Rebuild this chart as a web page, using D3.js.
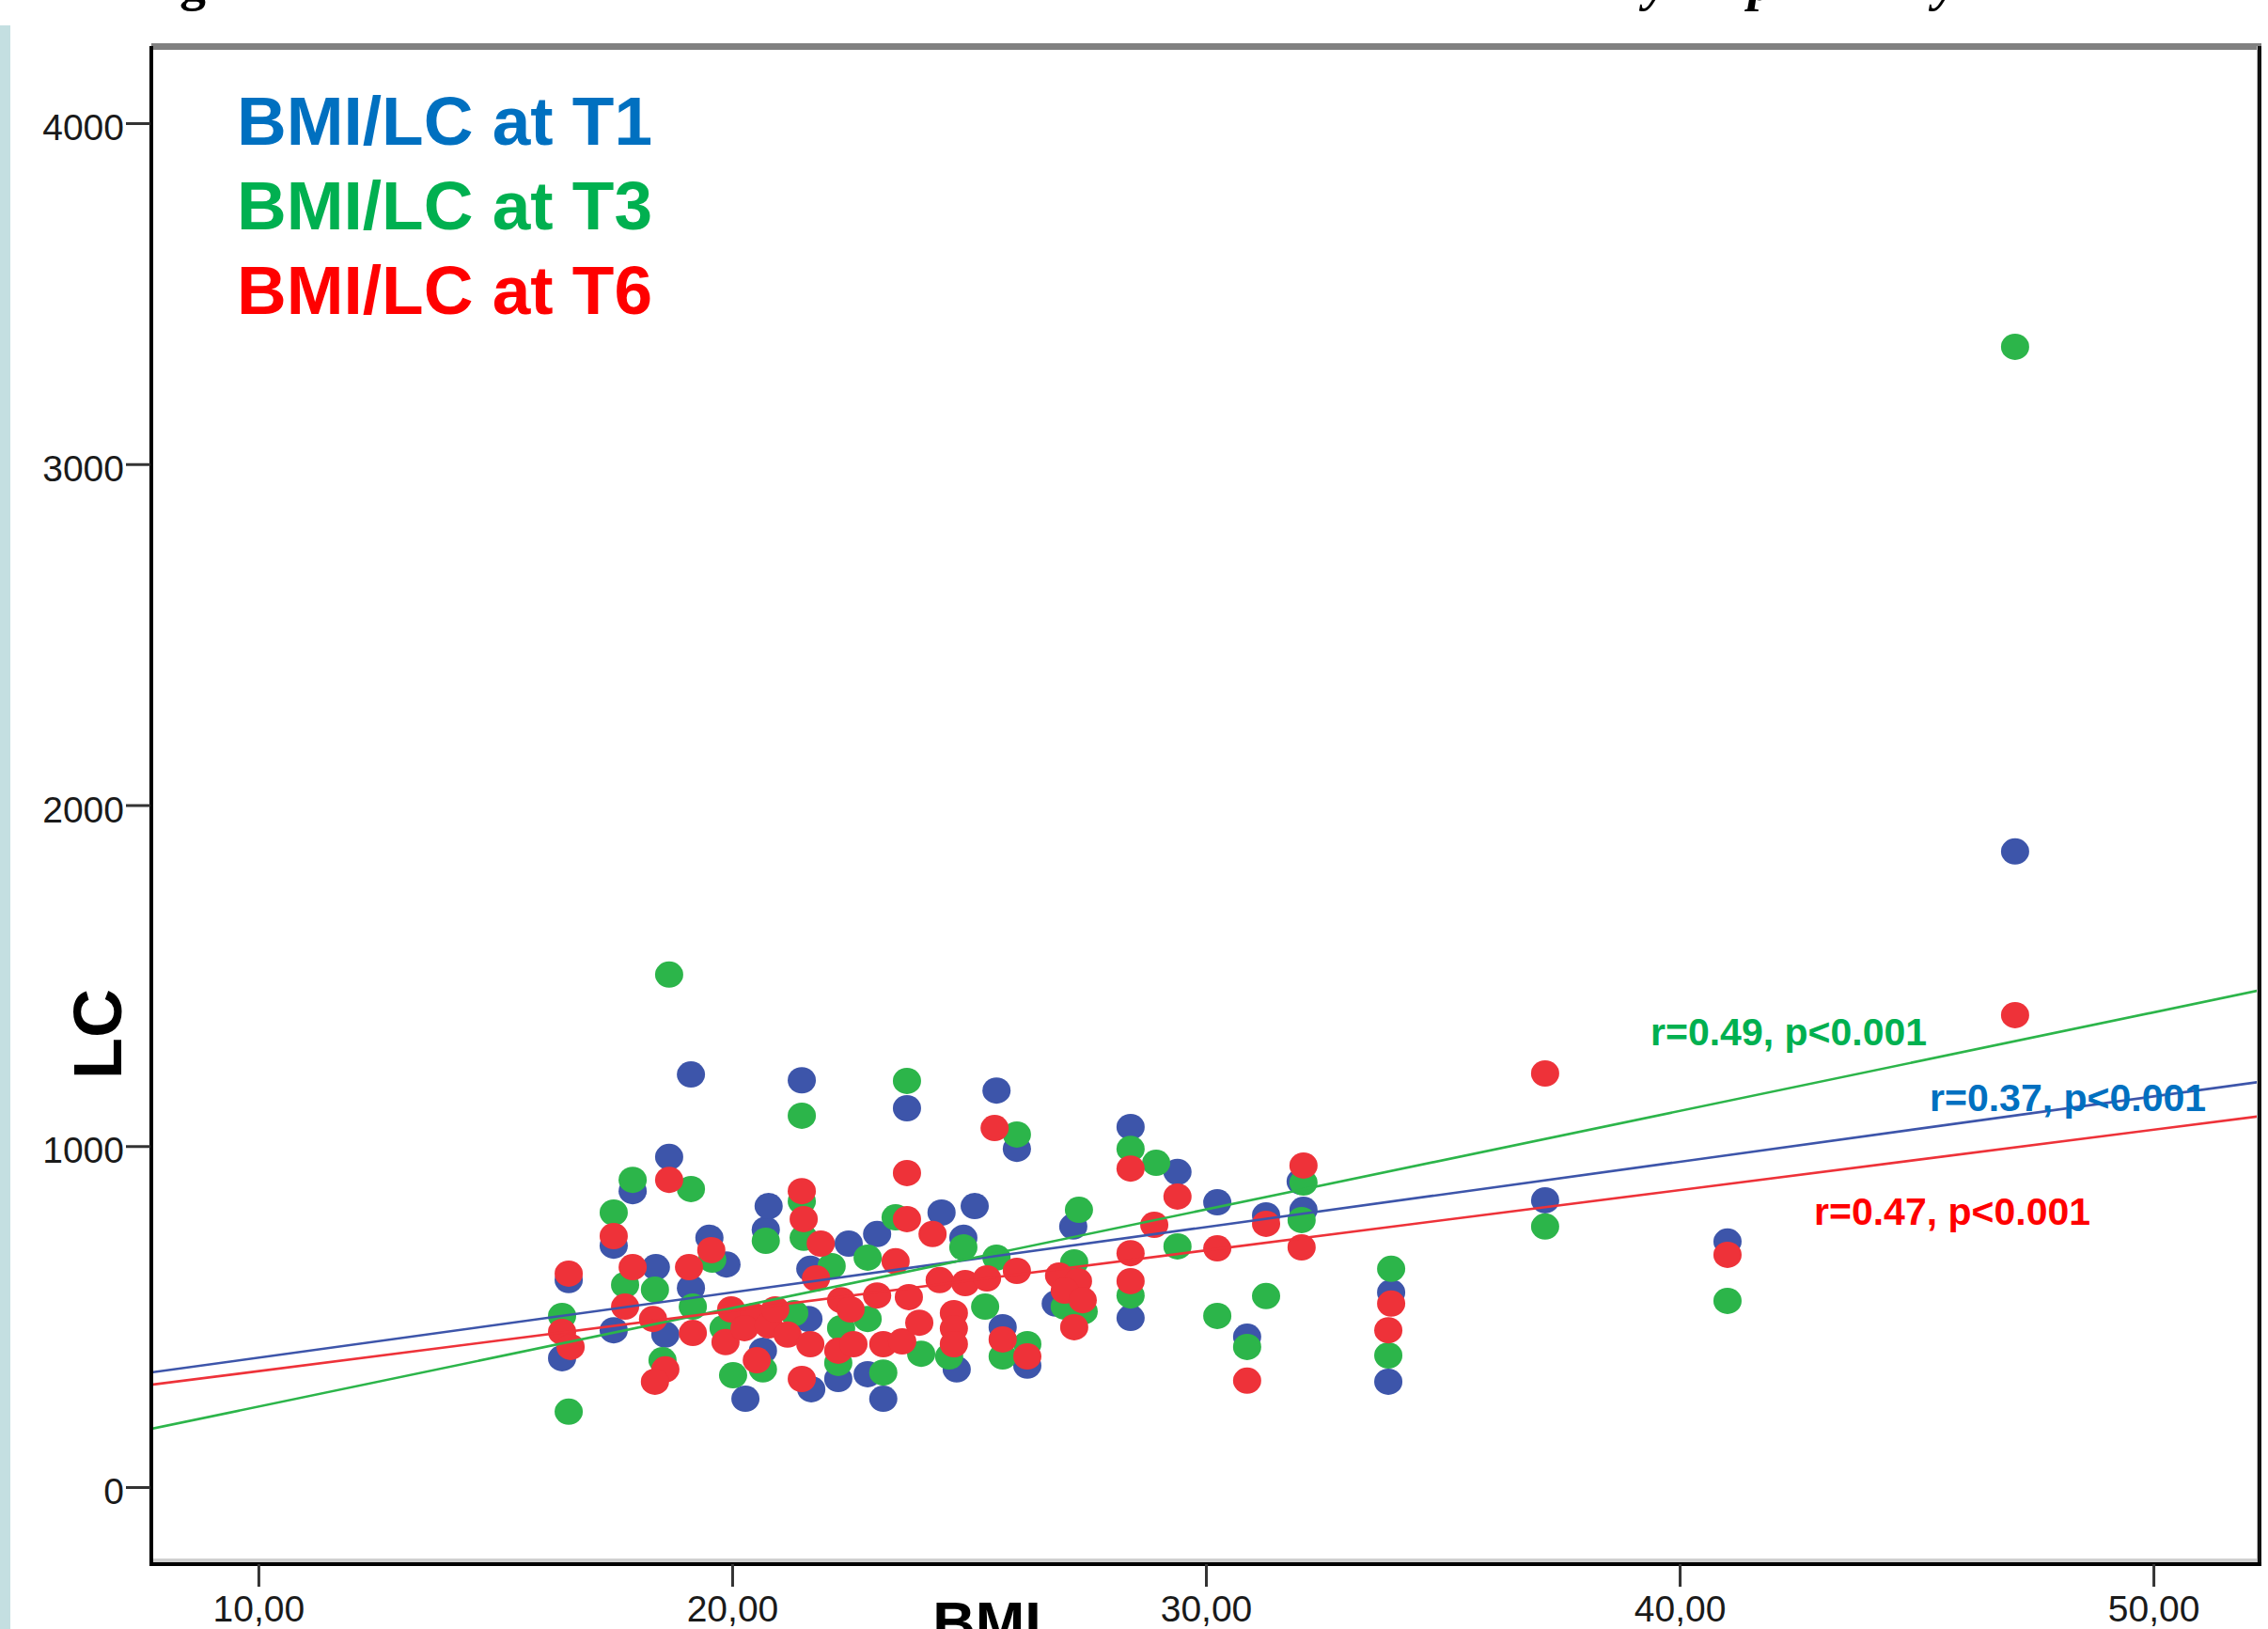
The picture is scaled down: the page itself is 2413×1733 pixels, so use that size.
<!DOCTYPE html>
<html>
<head>
<meta charset="utf-8">
<script src="https://cdn.jsdelivr.net/npm/d3@7"></script>
<style>
    body { margin: 0; background: #fff; }
    svg { display: block; }
</style>
</head>
<body>
<div class="scatter"></div>
<script>

// values: [BMI, LC]
var seriesNames = ["BMI/LC at T1", "BMI/LC at T3", "BMI/LC at T6"];

var t1Points = [
    [16.41, 378], [16.55, 607], [17.50, 708], [17.50, 460], [17.90, 868], [18.39, 645],
    [18.59, 447], [18.67, 968], [19.13, 1210], [19.13, 584], [19.52, 731], [19.88, 653],
    [20.28, 259], [20.65, 400], [20.71, 755], [20.77, 824], [21.47, 1193], [21.61, 493],
    [21.65, 640], [21.67, 287], [22.24, 317], [22.46, 714], [23.06, 742], [22.86, 331],
    [23.19, 259], [23.69, 1111], [24.42, 805], [24.88, 731], [25.12, 824], [25.58, 1163],
    [26.01, 992], [25.71, 469], [26.23, 356], [24.74, 345], [27.20, 764], [26.83, 538],
    [28.41, 1056], [28.41, 496], [29.40, 924], [30.24, 835], [31.27, 797], [32.00, 896],
    [32.06, 813], [30.87, 441], [33.91, 571], [33.85, 309], [37.16, 841], [41.01, 720],
    [47.08, 1864]
];

var t3Points = [
    [16.41, 502], [16.55, 221], [17.50, 805], [17.74, 593], [17.90, 901], [18.37, 579],
    [18.53, 372], [18.67, 1503], [19.13, 874], [19.17, 529], [19.58, 667], [19.82, 466],
    [20.02, 328], [20.65, 345], [20.71, 722], [21.31, 510], [21.47, 1089], [21.47, 838],
    [21.51, 731], [22.10, 648], [22.24, 364], [22.30, 466], [22.86, 493], [22.86, 673],
    [23.19, 336], [23.45, 791], [23.69, 1191], [23.99, 391], [24.58, 383], [24.88, 703],
    [25.34, 529], [25.58, 673], [25.71, 383], [26.23, 419], [26.01, 1034], [27.32, 813],
    [27.22, 659], [27.02, 529], [27.42, 515], [28.41, 992], [28.41, 562], [28.95, 951],
    [29.40, 706], [30.24, 502], [30.87, 411], [31.27, 560], [32.06, 893], [32.02, 783],
    [33.91, 640], [33.85, 386], [37.16, 764], [41.01, 546], [47.08, 3344]
];

var t6Points = [
    [16.41, 455], [16.55, 626], [16.59, 411], [17.50, 736], [17.74, 529], [17.90, 645],
    [18.33, 493], [18.59, 345], [18.37, 309], [18.67, 901], [19.09, 645], [19.17, 452],
    [19.56, 695], [19.86, 425], [19.98, 521], [20.46, 502], [20.26, 466], [20.52, 372],
    [20.77, 474], [20.91, 521], [21.17, 447], [21.47, 868], [21.51, 786], [21.47, 317],
    [21.65, 419], [21.77, 612], [21.87, 714], [22.24, 400], [22.30, 548], [22.50, 521],
    [22.56, 419], [23.19, 419], [23.59, 427], [23.06, 562], [23.45, 662], [23.69, 921],
    [23.73, 557], [23.69, 786], [23.95, 482], [24.23, 742], [24.38, 607], [24.92, 598],
    [25.38, 612], [24.68, 510], [24.68, 465], [24.68, 419], [25.54, 1053], [25.71, 433],
    [26.01, 634], [26.23, 383], [26.90, 620], [27.30, 604], [27.02, 576], [27.40, 548],
    [27.22, 469], [28.41, 934], [28.41, 686], [28.41, 604], [28.91, 769], [29.40, 852],
    [30.24, 700], [30.87, 312], [31.27, 772], [32.06, 943], [32.02, 703], [33.91, 538],
    [33.85, 460], [37.16, 1213], [41.01, 681], [47.08, 1384]
];

// fit lines as drawn in the figure (LC = a + b * BMI)
var fitIntercepts = [188, -53, 163];
var fitSlopes = [19.15, 28.9, 17.7];
var fitLabels = ["r=0.37, p<0.001", "r=0.49, p<0.001", "r=0.47, p<0.001"];

var xTicks = [10, 20, 30, 40, 50];
var yTicks = [0, 1000, 2000, 3000, 4000];


var dotColors = ["#3d55aa", "#2cb54a", "#ee3239"];
var textColors = ["#0070c0", "#00b050", "#ff0000"];

var width = 2413,
    height = 1733;

var plot = { left: 161, right: 2404, top: 49, bottom: 1662 };

var x = d3.scaleLinear()
    .domain([7.74, 52.24])
    .range([plot.left, plot.right]);

var y = d3.scaleLinear()
    .domain([-220.5, 4226])
    .range([plot.bottom, plot.top]);

var svg = d3.select(".scatter")
    .append("svg")
    .attr("width", width)
    .attr("height", height)
    .style("font-family", "'Liberation Sans', Arial, sans-serif");

svg.append("rect")
    .attr("width", width)
    .attr("height", height)
    .style("fill", "#fff");

// light strip on the slide's left edge
svg.append("rect")
    .attr("x", 0).attr("y", 27)
    .attr("width", 11).attr("height", height - 27)
    .style("fill", "#c4dfe1");

// descenders of the cut off slide title
var titleBits = [
    { ch: "g", x: 205, italic: false },
    { ch: "y", x: 1762, italic: true },
    { ch: "p", x: 1874, italic: true },
    { ch: "y", x: 2070, italic: true }
];
svg.selectAll(".title-bit")
    .data(titleBits)
    .enter().append("text")
    .attr("class", "title-bit")
    .attr("x", function(d) { return d.x; })
    .attr("y", 0)
    .attr("text-anchor", "middle")
    .style("font-family", "'Liberation Serif', 'Times New Roman', serif")
    .style("font-weight", "bold")
    .style("font-style", function(d) { return d.italic ? "italic" : "normal"; })
    .style("font-size", "56px")
    .style("fill", "#000")
    .text(function(d) { return d.ch; });

// frame
var frame = svg.append("g").attr("class", "frame");

frame.append("rect")
    .attr("x", plot.left).attr("y", 46)
    .attr("width", plot.right - plot.left + 2).attr("height", 7)
    .style("fill", "#808080");

frame.append("rect")
    .attr("x", plot.left).attr("y", plot.bottom - 4)
    .attr("width", plot.right - plot.left).attr("height", 4)
    .style("fill", "#d0d0d0");

frame.append("rect")
    .attr("x", plot.right - 3).attr("y", plot.top)
    .attr("width", 1).attr("height", plot.bottom - plot.top)
    .style("fill", "#bbb");

frame.append("rect")
    .attr("x", plot.right - 2).attr("y", plot.top)
    .attr("width", 4).attr("height", plot.bottom - plot.top + 4)
    .style("fill", "#111");

frame.append("rect")
    .attr("x", plot.left - 2).attr("y", plot.top)
    .attr("width", 4).attr("height", plot.bottom - plot.top + 4)
    .style("fill", "#000");

frame.append("rect")
    .attr("x", plot.left - 2).attr("y", plot.bottom)
    .attr("width", plot.right - plot.left + 4).attr("height", 4)
    .style("fill", "#000");

// axes
var yAxis = svg.append("g")
    .attr("transform", "translate(" + (plot.left - 1) + ",0)")
    .call(d3.axisLeft(y).tickValues(yTicks).tickSize(26).tickPadding(2).tickFormat(d3.format("d")));

yAxis.select(".domain").remove();
yAxis.selectAll(".tick line")
    .style("stroke", "#333")
    .style("stroke-width", 3);
yAxis.selectAll(".tick text")
    .attr("dy", "0.45em")
    .style("font-size", "39px")
    .style("fill", "#1a1a1a");

var commaFmt = function(d) { return d3.format(".2f")(d).replace(".", ","); };

var xAxis = svg.append("g")
    .attr("transform", "translate(0," + (plot.bottom + 2) + ")")
    .call(d3.axisBottom(x).tickValues(xTicks).tickSize(24).tickPadding(9).tickFormat(commaFmt));

xAxis.select(".domain").remove();
xAxis.selectAll(".tick line")
    .style("stroke", "#333")
    .style("stroke-width", 3);
xAxis.selectAll(".tick text")
    .style("font-size", "39px")
    .style("fill", "#1a1a1a");

// axis titles
svg.append("text")
    .attr("transform", "translate(129,1100) rotate(-90)")
    .attr("text-anchor", "middle")
    .style("font-size", "72px")
    .style("font-weight", "bold")
    .style("fill", "#000")
    .text("LC");

svg.append("text")
    .attr("x", 1050)
    .attr("y", 1748)
    .attr("text-anchor", "middle")
    .style("font-size", "63px")
    .style("font-weight", "bold")
    .style("fill", "#000")
    .text("BMI");

// points
svg.append("clipPath")
    .attr("id", "plot-clip")
    .append("rect")
    .attr("x", plot.left + 2).attr("y", 53)
    .attr("width", plot.right - plot.left - 5).attr("height", plot.bottom - 57);

var g = svg.append("g").attr("clip-path", "url(#plot-clip)");

var allSeries = [t1Points, t3Points, t6Points];

allSeries.forEach(function(pts, i) {
    g.append("g")
        .attr("class", "series-" + i)
        .selectAll("ellipse")
        .data(pts)
        .enter().append("ellipse")
        .attr("cx", function(d) { return x(d[0]); })
        .attr("cy", function(d) { return y(d[1]); })
        .attr("rx", 15)
        .attr("ry", 14)
        .style("fill", dotColors[i]);
});

// fit lines
var xDom = x.domain();
allSeries.forEach(function(pts, i) {
    var ends = xDom.map(function(b) { return [b, fitIntercepts[i] + fitSlopes[i] * b]; });
    g.append("path")
        .datum(ends)
        .attr("d", d3.line()
            .x(function(d) { return x(d[0]); })
            .y(function(d) { return y(d[1]); }))
        .style("fill", "none")
        .style("stroke", dotColors[i])
        .style("stroke-width", 2.6);
});

// r / p labels
var labelPos = [[2053, 1182], [1756, 1112], [1930, 1303]];
fitLabels.forEach(function(t, i) {
    svg.append("text")
        .attr("x", labelPos[i][0])
        .attr("y", labelPos[i][1])
        .style("font-size", "41px")
        .style("font-weight", "bold")
        .style("fill", textColors[i])
        .text(t);
});

// legend
seriesNames.forEach(function(name, i) {
    svg.append("text")
        .attr("x", 252)
        .attr("y", 154 + i * 90)
        .style("font-size", "73px")
        .style("font-weight", "bold")
        .style("fill", textColors[i])
        .text(name);
});

</script>
</body>
</html>
